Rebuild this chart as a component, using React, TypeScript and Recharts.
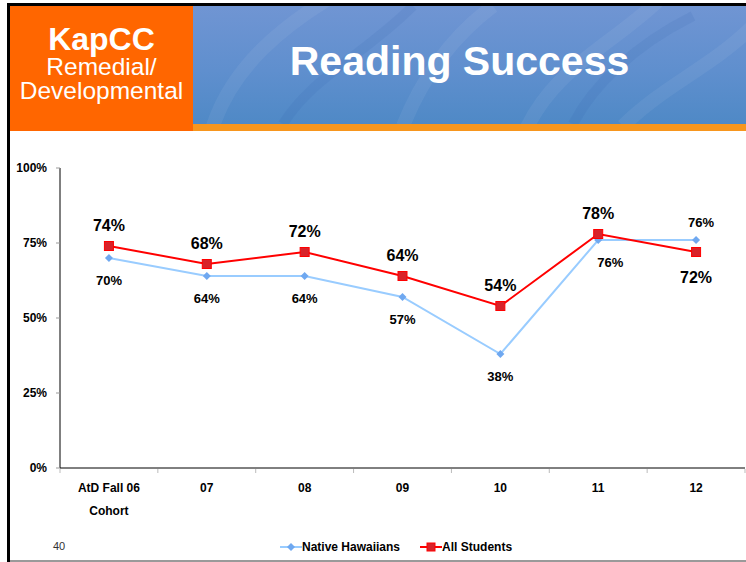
import React from 'react';
import { LineChart, Line, XAxis, YAxis, Legend, LabelList } from 'recharts';

const categories = ['AtD Fall 06\nCohort', '07', '08', '09', '10', '11', '12'];
const nativeHawaiians = [70, 64, 64, 57, 38, 76, 76];
const allStudents = [74, 68, 72, 64, 54, 78, 72];
const yTicks = [0, 25, 50, 75, 100];
const seriesNames = ['Native Hawaiians', 'All Students'];

const data = categories.map((c, i) => ({ cat: c, nh: nativeHawaiians[i], all: allStudents[i] }));

const FONT = '"Liberation Sans", Arial, Helvetica, sans-serif';
const NH_LINE = '#99CCFF';
const NH_DOT = '#6FA8F0';
const AS_LINE = '#FF0000';
const AS_DOT = '#D8232A';

const Diamond = (p: any) => {
  if (p.cx == null || p.cy == null) return null;
  return (
    <path
      key={`d-${p.index}`}
      d={`M${p.cx},${p.cy - 4}L${p.cx + 4},${p.cy}L${p.cx},${p.cy + 4}L${p.cx - 4},${p.cy}Z`}
      fill={NH_DOT}
    />
  );
};

const Square = (p: any) => {
  if (p.cx == null || p.cy == null) return null;
  return (
    <rect
      key={`s-${p.index}`}
      x={p.cx - 4.5}
      y={p.cy - 4.5}
      width={9}
      height={9}
      fill={AS_DOT}
      stroke={AS_LINE}
      strokeWidth={1}
    />
  );
};

const makeLabel = (own: number[], other: number[], big: boolean) => (props: any) => {
  const { x, y, index, value } = props;
  const above = own[index] >= other[index];
  const off = big ? (above ? -21 : 25) : above ? -18 : 22;
  const dx = !big && !above && own[index] > 70 ? 12 : !big && above ? 5 : 0;
  return (
    <text
      key={`l-${big ? 'a' : 'n'}-${index}`}
      x={x + dx}
      y={y + off}
      textAnchor="middle"
      dominantBaseline="central"
      fontSize={big ? 16 : 13}
      fontWeight="bold"
      fontFamily={FONT}
      fill="#000"
    >
      {value}%
    </text>
  );
};

const XTick = (props: any) => {
  const { x, y, payload, index, visibleTicksCount } = props;
  const half = payload && payload.offset ? payload.offset : 49;
  const lines = String(payload.value).split('\n');
  return (
    <g>
      <line x1={x - half} x2={x - half} y1={y + 1} y2={y + 5} stroke="#bbb" />
      {index === visibleTicksCount - 1 && (
        <line x1={x + half} x2={x + half} y1={y + 1} y2={y + 5} stroke="#bbb" />
      )}
      {lines.map((ln, i) => (
        <text
          key={i}
          x={x}
          y={y + 23.5 + i * 23}
          textAnchor="middle"
          fontSize={12}
          fontWeight="bold"
          fontFamily={FONT}
          fill="#000"
        >
          {ln}
        </text>
      ))}
    </g>
  );
};

const LegendContent = () => (
  <div
    style={{
      display: 'flex',
      alignItems: 'center',
      paddingLeft: 280,
      height: 22,
      fontFamily: FONT,
      fontSize: 12,
      fontWeight: 'bold',
      color: '#000',
    }}
  >
    <svg width={22} height={10} style={{ display: 'block' }}>
      <line x1={0} x2={22} y1={5} y2={5} stroke={NH_LINE} strokeWidth={2} />
      <path d="M11,1L15,5L11,9L7,5Z" fill={NH_DOT} />
    </svg>
    <span style={{ marginRight: 20 }}>{seriesNames[0]}</span>
    <svg width={22} height={10} style={{ display: 'block' }}>
      <line x1={0} x2={22} y1={5} y2={5} stroke={AS_LINE} strokeWidth={2} />
      <rect x={7} y={1} width={8} height={8} fill={AS_DOT} stroke={AS_LINE} />
    </svg>
    <span>{seriesNames[1]}</span>
  </div>
);

export default function App() {
  return (
    <div
      style={{
        position: 'absolute',
        left: 0,
        top: 0,
        width: 746,
        height: 562,
        background: '#fff',
        overflow: 'hidden',
        fontFamily: FONT,
      }}
    >
      {/* borders */}
      <div style={{ position: 'absolute', left: 7, top: 3, width: 739, height: 3, background: '#000' }} />
      <div style={{ position: 'absolute', left: 7, top: 3, width: 3, height: 559, background: '#000' }} />
      <div style={{ position: 'absolute', left: 10, top: 560, width: 736, height: 2, background: '#9a9a9a' }} />

      {/* orange box */}
      <div
        style={{
          position: 'absolute',
          left: 10,
          top: 6,
          width: 183,
          height: 125,
          background: '#FF6600',
          color: '#fff',
        }}
      >
        <div style={{ position: 'absolute', left: 0, width: 183, top: 20, textAlign: 'center', fontSize: 32, fontWeight: 'bold', lineHeight: '26px' }}>
          KapCC
        </div>
        <div style={{ position: 'absolute', left: 0, width: 183, top: 51, textAlign: 'center', fontSize: 24.5, lineHeight: '20px' }}>
          Remedial/
        </div>
        <div style={{ position: 'absolute', left: 0, width: 183, top: 75, textAlign: 'center', fontSize: 24.5, lineHeight: '20px' }}>
          Developmental
        </div>
      </div>

      {/* blue banner */}
      <div
        style={{
          position: 'absolute',
          left: 193,
          top: 6,
          width: 553,
          height: 118,
          background: 'linear-gradient(180deg, #7095d3 0%, #5f8fce 55%, #4f89c6 100%)',
          overflow: 'hidden',
        }}
      >
        <svg width={553} height={118} style={{ position: 'absolute', left: 0, top: 0 }}>
          <g fill="none" stroke="rgba(255,255,255,0.06)" strokeWidth={14}>
            <path d="M20,120 C40,60 90,20 140,-10" />
            <path d="M210,120 C230,70 260,30 300,0" />
            <path d="M330,130 C360,60 420,40 470,-10" />
            <path d="M430,120 C470,80 520,60 560,20" />
          </g>
          <g fill="none" stroke="rgba(40,90,170,0.10)" strokeWidth={10}>
            <path d="M90,118 C120,70 170,50 220,0" />
            <path d="M380,118 C400,80 440,40 500,10" />
          </g>
        </svg>
        <div
          style={{
            position: 'absolute',
            left: 0,
            width: 533,
            top: 33,
            textAlign: 'center',
            fontSize: 41,
            fontWeight: 'bold',
            color: '#fff',
            lineHeight: '44px',
          }}
        >
          Reading Success
        </div>
      </div>
      <div style={{ position: 'absolute', left: 193, top: 124, width: 553, height: 7, background: '#F7961E' }} />

      {/* page number */}
      <div style={{ position: 'absolute', left: 53, top: 540, fontSize: 11, color: '#333', lineHeight: '13px' }}>40</div>

      {/* chart */}
      <div style={{ position: 'absolute', left: 0, top: 0 }}>
        <LineChart
          width={746}
          height={562}
          data={data}
          margin={{ top: 168, right: 1, left: 0, bottom: 0 }}
        >
          <XAxis
            dataKey="cat"
            scale="band"
            interval={0}
            height={72}
            tickSize={0}
            tickMargin={0}
            tickLine={false}
            axisLine={{ stroke: '#000', strokeWidth: 1 }}
            tick={<XTick />}
          />
          <YAxis
            width={60}
            domain={[0, 100]}
            ticks={yTicks}
            interval={0}
            tickSize={4}
            tickMargin={9}
            tickLine={{ stroke: '#999' }}
            axisLine={{ stroke: '#000', strokeWidth: 1 }}
            tickFormatter={(v: number) => `${v}%`}
            tick={{ fontSize: 12, fontWeight: 'bold', fill: '#000', fontFamily: FONT }}
          />
          <Legend
            verticalAlign="bottom"
            content={<LegendContent />}
            wrapperStyle={{ position: 'absolute', left: 0, bottom: 4, width: 746, height: 22 }}
          />
          <Line
            type="linear"
            dataKey="nh"
            name={seriesNames[0]}
            stroke={NH_LINE}
            strokeWidth={2}
            dot={<Diamond />}
            isAnimationActive={false}
          >
            <LabelList dataKey="nh" content={makeLabel(nativeHawaiians, allStudents, false)} />
          </Line>
          <Line
            type="linear"
            dataKey="all"
            name={seriesNames[1]}
            stroke={AS_LINE}
            strokeWidth={2}
            dot={<Square />}
            isAnimationActive={false}
          >
            <LabelList dataKey="all" content={makeLabel(allStudents, nativeHawaiians, true)} />
          </Line>
        </LineChart>
      </div>
    </div>
  );
}
